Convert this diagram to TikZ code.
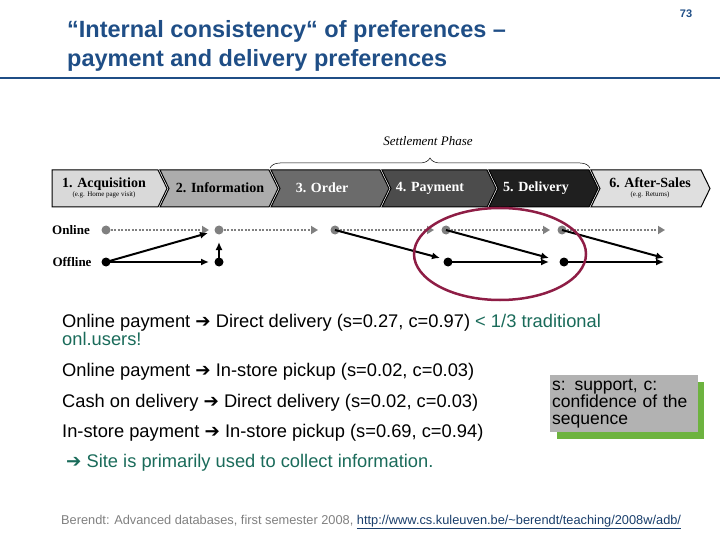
\documentclass[tikz,border=0pt]{standalone}
\usepackage{fontspec}
\setmainfont{Liberation Sans}
\newfontfamily\serifb{Liberation Serif}
\newfontfamily\dv{DejaVu Sans}
\usetikzlibrary{decorations.pathreplacing,arrows.meta,shapes.geometric}
\definecolor{tblue}{HTML}{1F4E86}
\definecolor{tgreen}{HTML}{1A6B5A}
\definecolor{maroon}{HTML}{8E1D45}
\definecolor{sgreen}{HTML}{6DB33F}
\newcommand{\ar}{{\dv\char"2794}}
\begin{document}
\begin{tikzpicture}[x=1pt,y=-1pt,
  lbl/.style={anchor=west,inner sep=0pt,font=\fontsize{18.3}{17}\selectfont},
  dot/.style={circle,inner sep=0pt,minimum size=9pt},
  gdash/.style={gray,line width=2.2pt,dash pattern=on 2pt off 1.5pt,-{Triangle[length=7pt,width=8pt]}},
  barr/.style={black,line width=2pt,-{Latex[length=8pt,width=7pt]}},
  phtxt/.style={font=\serifb\bfseries\fontsize{14}{13}\selectfont,align=center}]
\useasboundingbox (0,0) rectangle (720,540);
% header
\node[anchor=west,align=left,text=tblue,font=\bfseries\fontsize{23.5}{29}\selectfont,inner sep=0pt] (title) at (67,46) {“Internal consistency“ of preferences –\\payment and delivery preferences};
\node[text=tblue,font=\bfseries\fontsize{11}{12}\selectfont] (pg) at (686,14) {73};
\draw[tblue,line width=2.5pt] (0,78) -- (720,78);
% chevrons
\def\yt{170}\def\yb{207}\def\ym{188.5}
\fill[gray!30,draw=black,line width=1pt] (52,\yt) -- (158,\yt) -- (167,\ym) -- (158,\yb) -- (52,\yb) -- cycle;
\fill[gray!65,draw=black,line width=1pt] (160,\yt) -- (269,\yt) -- (278,\ym) -- (269,\yb) -- (160,\yb) -- (169,\ym) -- cycle;
\fill[black!58,draw=black,line width=1pt] (271,\yt) -- (380,\yt) -- (389,\ym) -- (380,\yb) -- (271,\yb) -- (280,\ym) -- cycle;
\fill[black!70,draw=black,line width=1pt] (382,\yt) -- (487,\yt) -- (496,\ym) -- (487,\yb) -- (382,\yb) -- (391,\ym) -- cycle;
\fill[black!88,draw=black,line width=1pt] (489,\yt) -- (589,\yt) -- (598,\ym) -- (589,\yb) -- (489,\yb) -- (498,\ym) -- cycle;
\fill[gray!25,draw=black,line width=1pt] (591,\yt) -- (701,\yt) -- (710,\ym) -- (701,\yb) -- (591,\yb) -- (600,\ym) -- cycle;
\node[phtxt] (p1) at (104,188) {1. Acquisition\\[-4pt]{\mdseries\fontsize{7}{7}\selectfont (e.g. Home page visit)}};
\node[phtxt] (p2) at (220,188) {2. Information};
\node[phtxt,text=white] (p3) at (322,188) {3. Order};
\node[phtxt,text=white] (p4) at (430,188) {4. Payment};
\node[phtxt,text=white] (p5) at (536,188) {5. Delivery};
\node[phtxt] (p6) at (650,188) {6. After-Sales\\[-4pt]{\mdseries\fontsize{7}{7}\selectfont (e.g. Returns)}};
% brace
\coordinate (bl) at (270,168); \coordinate (br) at (590,168);
\draw[decorate,decoration={brace,amplitude=10pt},line width=0.5pt] (bl) -- (br);
\node[font=\serifb\itshape\fontsize{13}{13}\selectfont] (sp) at (428,141) {Settlement Phase};
% rows
\node[font=\serifb\bfseries\fontsize{13}{13}\selectfont] (on) at (71,230) {Online};
\node[font=\serifb\bfseries\fontsize{13}{13}\selectfont] (off) at (72,262) {Offline};
\foreach \n/\x in {1/106,2/219,3/335,4/446,5/562} \node[dot,fill=gray] (o\n) at (\x,230) {};
\foreach \n/\x in {1/106,2/219,4/448,5/564} \node[dot,fill=black] (f\n) at (\x,262) {};
\coordinate (e1) at (209,230); \coordinate (e2) at (318,230); \coordinate (e3) at (434,230);
\coordinate (e4) at (550,230); \coordinate (e5) at (665,230);
\draw[gdash] (o1) -- (e1); \draw[gdash] (o2) -- (e2); \draw[gdash] (o3) -- (e3);
\draw[gdash] (o4) -- (e4); \draw[gdash] (o5) -- (e5);
\coordinate (a1) at (208,233); \coordinate (a2) at (209,262);
\coordinate (a3) at (219,242); \coordinate (a4) at (440,258);
\coordinate (a5) at (549,262); \coordinate (a6) at (549,258);
\coordinate (a7) at (664,262); \coordinate (a8) at (664,258);
\draw[barr] (f1.center) -- (a1); \draw[barr] (f1.center) -- (a2);
\draw[barr] (f2.center) -- (a3); \draw[barr] (o3.center) -- (a4);
\draw[barr] (f4.center) -- (a5); \draw[barr] (o4.center) -- (a6);
\draw[barr] (f5.center) -- (a7); \draw[barr] (o5.center) -- (a8);
\node[ellipse,draw=maroon,line width=2.5pt,minimum width=172pt,minimum height=92pt] (ell) at (500,254) {};
% text
\node[lbl,anchor=north west,align=left] (t1) at (62,314) {Online payment \ar\ Direct delivery (s=0.27, c=0.97) \textcolor{tgreen}{< 1/3 traditional}\\\textcolor{tgreen}{onl.users!}};
\node[lbl] (t2) at (62,372) {Online payment \ar\ In-store pickup (s=0.02, c=0.03)};
\node[lbl] (t3) at (62,403) {Cash on delivery \ar\ Direct delivery (s=0.02, c=0.03)};
\node[lbl] (t4) at (62,433) {In-store payment \ar\ In-store pickup (s=0.69, c=0.94)};
\node[lbl,text=tgreen] (t5) at (66,463) {\ar\ Site is primarily used to collect information.};
% box
\fill[sgreen] (557,382) rectangle (704,439);
\node[fill=gray!60,anchor=north west,minimum width=148pt,minimum height=57pt,inner sep=2pt,text width=144pt,align=left,font=\fontsize{17.5}{17}\selectfont] (box) at (550,375) {s: support, c:\\confidence of the\\sequence};
% footer
\node[anchor=west,inner sep=0pt,text=gray,font=\fontsize{12.8}{14}\selectfont] (ft) at (61,522) {Berendt: Advanced databases, first semester 2008, \textcolor{tblue!80!black}{\underline{http://www.cs.kuleuven.be/\textasciitilde berendt/teaching/2008w/adb/}}};
\end{tikzpicture}
\end{document}
